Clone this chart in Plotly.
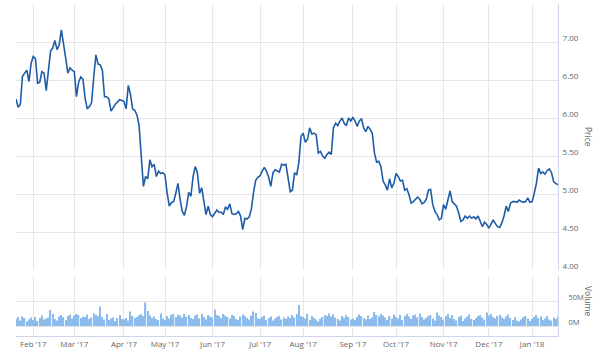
import pandas as pd
import plotly.graph_objects as go

# ---------------- data ----------------
start_date = "2017-01-20"
end_date = "2018-01-19"
holidays = ["2017-02-20", "2017-04-14", "2017-05-29", "2017-07-04", "2017-09-04",
            "2017-11-23", "2017-12-25", "2018-01-01", "2018-01-15"]

price_jan17 = [6.25, 6.14, 6.18, 6.55, 6.59, 6.63, 6.48, 6.72]
price_feb17 = [6.81, 6.78, 6.46, 6.47, 6.61, 6.59, 6.36, 6.64, 6.88, 6.92, 7.02, 6.90, 6.96,
               7.16, 6.99, 6.79, 6.59, 6.66, 6.63]
price_mar17 = [6.61, 6.28, 6.47, 6.54, 6.51, 6.26, 6.12, 6.15, 6.20, 6.54, 6.83, 6.71, 6.70,
               6.63, 6.28, 6.28, 6.25, 6.09, 6.14, 6.18, 6.21, 6.24, 6.23]
price_apr17 = [6.22, 6.12, 6.43, 6.31, 6.12, 6.10, 6.04, 5.90, 5.50, 5.10, 5.23, 5.20, 5.45,
               5.36, 5.39, 5.23, 5.30, 5.27, 5.28]
price_may17 = [5.25, 5.01, 4.84, 4.89, 4.90, 5.01, 5.14, 4.93, 4.77, 4.72, 4.84, 5.02, 4.97,
               5.23, 5.36, 5.28, 5.01, 5.08, 4.88, 4.73, 4.84, 4.73]
price_jun17 = [4.70, 4.75, 4.79, 4.76, 4.76, 4.73, 4.83, 4.80, 4.87, 4.74, 4.73, 4.74, 4.77,
               4.71, 4.53, 4.68, 4.67, 4.70, 4.80, 5.02, 5.18, 5.22]
price_jul17 = [5.24, 5.30, 5.35, 5.30, 5.22, 5.10, 5.28, 5.32, 5.30, 5.29, 5.39, 5.38, 5.39,
               5.18, 5.03, 5.05, 5.28, 5.25, 5.42, 5.76]
price_aug17 = [5.80, 5.68, 5.72, 5.87, 5.79, 5.80, 5.78, 5.54, 5.56, 5.50, 5.47, 5.52, 5.55,
               5.52, 5.87, 5.93, 5.90, 5.96, 6.00, 5.93, 5.90, 6.00, 5.96]
price_sep17 = [6.01, 5.96, 5.89, 5.96, 5.99, 5.87, 5.82, 5.89, 5.85, 5.80, 5.54, 5.42, 5.43,
               5.36, 5.17, 5.12, 5.05, 5.20, 5.08, 5.14]
price_oct17 = [5.27, 5.23, 5.17, 5.18, 5.05, 5.07, 4.99, 4.88, 4.90, 4.93, 4.96, 4.93, 4.87,
               4.89, 4.93, 5.05, 5.06, 4.86, 4.77, 4.73, 4.66, 4.68]
price_nov17 = [4.86, 4.80, 4.93, 5.04, 4.90, 4.87, 4.84, 4.75, 4.64, 4.66, 4.71, 4.68, 4.71,
               4.68, 4.70, 4.67, 4.71, 4.64, 4.57, 4.63, 4.60]
price_dec17 = [4.55, 4.61, 4.66, 4.61, 4.57, 4.56, 4.62, 4.71, 4.84, 4.77, 4.88, 4.90, 4.90,
               4.89, 4.92, 4.90, 4.89, 4.90, 4.95, 4.89]
price_jan18 = [4.90, 5.01, 5.14, 5.34, 5.27, 5.29, 5.26, 5.31, 5.33, 5.28, 5.16, 5.14, 5.12]

# volume in millions of shares
vol_jan17 = [14, 18, 11, 19, 16, 9, 13, 17]
vol_feb17 = [12, 18, 10, 16, 21, 13, 15, 17, 32, 24, 14, 11, 19, 22, 18, 12, 20, 23, 15]
vol_mar17 = [21, 24, 22, 16, 19, 18, 23, 14, 17, 25, 22, 20, 39, 18, 13, 24, 12, 15, 17, 10,
             16, 22, 14]
vol_apr17 = [13, 16, 11, 29, 20, 16, 18, 22, 24, 20, 47, 30, 21, 16, 19, 14, 12, 25, 15]
vol_may17 = [12, 20, 15, 22, 24, 18, 23, 21, 17, 24, 19, 22, 16, 14, 21, 23, 15, 24, 18, 13,
             22, 19]
vol_jun17 = [17, 33, 22, 20, 16, 24, 21, 18, 15, 22, 20, 14, 12, 19, 23, 20, 16, 13, 21, 29,
             26, 15]
vol_jul17 = [14, 18, 21, 12, 16, 19, 11, 15, 18, 20, 13, 17, 14, 19, 16, 22, 17, 24, 42, 20]
vol_aug17 = [18, 15, 24, 12, 20, 16, 13, 9, 14, 18, 22, 20, 25, 19, 23, 17, 14, 11, 20, 16,
             22, 18, 13]
vol_sep17 = [15, 12, 18, 23, 20, 16, 13, 21, 14, 17, 28, 22, 19, 24, 21, 17, 12, 20, 15, 23]
vol_oct17 = [18, 15, 22, 12, 20, 24, 19, 14, 21, 23, 17, 25, 18, 13, 16, 20, 22, 15, 11, 27,
             21, 18]
vol_nov17 = [13, 20, 24, 16, 22, 14, 11, 18, 21, 10, 15, 19, 23, 14, 12, 16, 20, 22, 17, 13, 27]
vol_dec17 = [21, 24, 18, 15, 20, 22, 17, 14, 19, 23, 16, 12, 18, 11, 9, 13, 17, 20, 15, 10]
vol_jan18 = [14, 18, 22, 16, 19, 12, 15, 20, 13, 11, 17, 14, 19]

price_ticks = [4.0, 4.5, 5.0, 5.5, 6.0, 6.5, 7.0, 7.5]
price_tick_text = ["4.00", "4.50", "5.00", "5.50", "6.00", "6.50", "7.00", ""]
vol_ticks = [0, 50e6, 100e6]
vol_tick_text = ["0M", "50M", ""]

# ---------------- assemble ----------------
prices = (price_jan17 + price_feb17 + price_mar17 + price_apr17 + price_may17 + price_jun17 +
          price_jul17 + price_aug17 + price_sep17 + price_oct17 + price_nov17 + price_dec17 +
          price_jan18)
volumes_m = (vol_jan17 + vol_feb17 + vol_mar17 + vol_apr17 + vol_may17 + vol_jun17 +
             vol_jul17 + vol_aug17 + vol_sep17 + vol_oct17 + vol_nov17 + vol_dec17 + vol_jan18)
volumes = [v * 1e6 for v in volumes_m]

days = pd.bdate_range(start_date, end_date, freq="C", holidays=holidays)
x = days + pd.Timedelta(hours=12)
n = min(len(x), len(prices), len(volumes))
x = x[:n]
prices = prices[:n]
volumes = volumes[:n]

# first trading day of every month (skipping the partial first month)
s = pd.Series(x, index=x)
firsts = s.groupby(x.to_period("M")).min()
tickvals = list(firsts.values[1:])
ticktext = [pd.Timestamp(t).strftime("%b '%y") for t in tickvals]

# ---------------- figure ----------------
W, H = 601, 363
ML, MR, MT, MB = 16, 43, 4, 27
plot_h = H - MT - MB
price_bottom_px = 270
vol_top_px = 276
price_dom = [(H - MB - price_bottom_px) / plot_h, 1.0]
vol_dom = [0.0, (H - MB - vol_top_px) / plot_h]

grid = "#e6e6e6"
axis_line = "#ccd6eb"
txt = "#666666"
font_family = "Open Sans, Lato, DejaVu Sans, sans-serif"

fig = go.Figure()
fig.add_trace(go.Scatter(x=x, y=prices, mode="lines", xaxis="x", yaxis="y",
                         line=dict(color="#1f5ca8", width=1.6), hoverinfo="x+y"))
fig.add_trace(go.Bar(x=x, y=volumes, xaxis="x2", yaxis="y2",
                     marker=dict(color="#8bbcec", line=dict(width=0)),
                     width=0.6 * 86400000))

rb = [dict(bounds=["sat", "mon"]), dict(values=holidays)]
xrange_ = [x[0], x[-1]]

fig.update_layout(
    template="none",
    width=W, height=H,
    margin=dict(l=ML, r=MR, t=MT, b=MB, pad=0, autoexpand=False),
    paper_bgcolor="white", plot_bgcolor="white",
    showlegend=False,
    font=dict(family=font_family, size=8, color=txt),
    xaxis=dict(domain=[0, 1], anchor="y", type="date", range=xrange_, rangebreaks=rb,
               tickvals=tickvals, ticktext=ticktext, showticklabels=False, automargin=False,
               showgrid=True, gridcolor=grid, gridwidth=1, zeroline=False, showline=False,
               ticks=""),
    xaxis2=dict(domain=[0, 1], anchor="y2", type="date", range=xrange_, rangebreaks=rb,
                matches="x", tickvals=tickvals, ticktext=ticktext, showticklabels=True,
                automargin=False,
                showgrid=True, gridcolor=grid, gridwidth=1, zeroline=False,
                showline=True, linecolor=axis_line, linewidth=1, ticks="",
                tickfont=dict(size=8, color=txt)),
    yaxis=dict(domain=price_dom, anchor="x", side="right", range=[4.0, 7.5],
               tickvals=price_ticks, ticktext=price_tick_text, showgrid=True, gridcolor=grid,
               gridwidth=1, zeroline=False, showline=True, linecolor=axis_line, linewidth=1,
               ticks="", ticklabelshift=-4, ticklabelstandoff=2, automargin=False,
               tickfont=dict(size=8, color=txt)),
    yaxis2=dict(domain=vol_dom, anchor="x2", side="right", range=[-20e6, 100e6],
                tickvals=vol_ticks, ticktext=vol_tick_text, showgrid=True, gridcolor=grid,
                gridwidth=1, zeroline=False, showline=True, linecolor=axis_line, linewidth=1,
                ticks="", ticklabelshift=-4, ticklabelstandoff=8, automargin=False,
                tickfont=dict(size=7.5, color=txt)),
    bargap=0.3,
)

plot_w = W - ML - MR
title_x = (589 - ML) / plot_w
fig.add_annotation(text="Price", xref="paper", yref="paper", x=title_x,
                   y=(H - MB - 137) / plot_h, showarrow=False, textangle=90,
                   xanchor="center", yanchor="middle",
                   font=dict(size=8.5, color=txt))
fig.add_annotation(text="Volume", xref="paper", yref="paper", x=title_x,
                   y=(H - MB - 301) / plot_h, showarrow=False, textangle=90,
                   xanchor="center", yanchor="middle",
                   font=dict(size=8.5, color=txt))

fig.write_html("out.html",
               config={"displayModeBar": False},
               post_script="document.body.style.margin='0';document.body.style.overflow='hidden';")
